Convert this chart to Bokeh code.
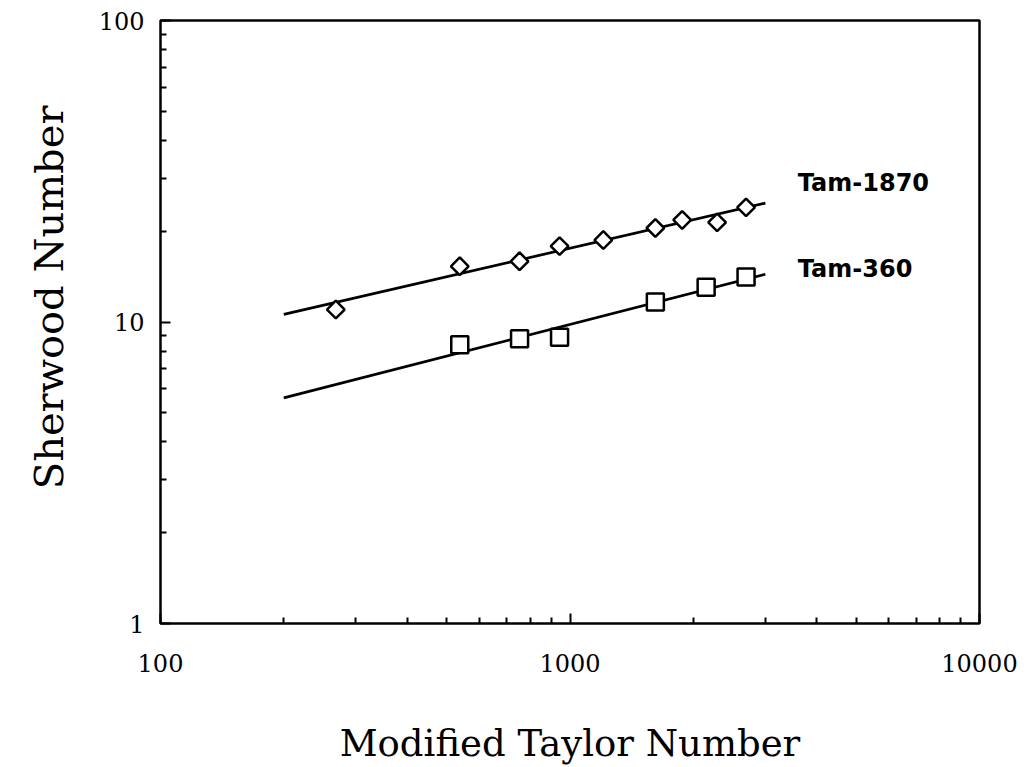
import math
from bokeh.plotting import figure
from bokeh.models import FixedTicker, Label, Title
from bokeh.embed import file_html
from bokeh.resources import INLINE

# Data
tam1870_x = [268, 538, 753, 943, 1206, 1616, 1879, 2287, 2691]
tam1870_y = [11.0, 15.3, 15.9, 17.85, 18.7, 20.5, 21.8, 21.4, 24.0]
tam360_x = [538, 753, 943, 1616, 2150, 2691]
tam360_y = [8.4, 8.8, 8.9, 11.65, 13.05, 14.1]
fit_x = [200, 3000]
fit1870_y = [10.6, 24.8]
fit360_y = [5.6, 14.4]
label_1870 = "Tam-1870"
label_360 = "Tam-360"
x_title = "Modified Taylor Number"
y_title = "Sherwood Number"
x_ticks = [100, 1000, 10000]
y_ticks = [1, 10, 100]

p = figure(width=1019, height=767, x_axis_type="log", y_axis_type="log",
           x_range=(100, 10000), y_range=(1, 100),
           output_backend="svg", toolbar_location=None,
           min_border_left=158, min_border_right=40, min_border_top=20, min_border_bottom=143)

p.grid.visible = False
p.outline_line_color = "black"
p.outline_line_width = 2.5
p.background_fill_color = "white"
p.border_fill_color = "white"

for ax in (p.xaxis[0], p.yaxis[0]):
    ax.axis_line_color = None
    ax.major_tick_in = 10
    ax.major_tick_out = 0
    ax.minor_tick_in = 6
    ax.minor_tick_out = 0
    ax.major_tick_line_width = 2
    ax.minor_tick_line_width = 2
    ax.major_tick_line_color = "black"
    ax.minor_tick_line_color = "black"
    ax.major_label_text_font = "DejaVu Serif"
    ax.major_label_text_font_size = "24px"
    ax.major_label_text_color = "black"
    ax.axis_label_text_font = "DejaVu Serif"
    ax.axis_label_text_font_style = "normal"
    ax.axis_label_text_color = "black"

p.xaxis.ticker = FixedTicker(ticks=x_ticks, minor_ticks=[v * k for v in [100, 1000] for k in range(2, 10)])
p.yaxis.ticker = FixedTicker(ticks=y_ticks, minor_ticks=[v * k for v in [1, 10] for k in range(2, 10)])
p.xaxis.major_label_overrides = {t: str(t) for t in x_ticks}
p.yaxis.major_label_overrides = {t: str(t) for t in y_ticks}
p.xaxis.major_label_standoff = 30
p.yaxis.major_label_standoff = 16

p.xaxis.axis_label = x_title
p.xaxis.axis_label_text_font_size = "37px"
p.xaxis.axis_label_standoff = 47

# y title as a side title, placed slightly above the frame centre as in the reference
p.add_layout(Title(text=y_title, align="right", offset=85, standoff=47,
                   text_font="DejaVu Serif", text_font_size="40px",
                   text_font_style="normal", text_color="black"), "left")

p.line(fit_x, fit1870_y, line_color="black", line_width=2.7)
p.line(fit_x, fit360_y, line_color="black", line_width=2.7)
p.scatter(tam1870_x, tam1870_y, marker="square", angle=math.pi / 4, size=12.5,
          fill_color="white", line_color="black", line_width=2.5)
p.scatter(tam360_x, tam360_y, marker="square", size=17, fill_color="white",
          line_color="black", line_width=2.5)

p.add_layout(Label(x=3600, y=28.9, text=label_1870, text_font="DejaVu Sans",
                   text_font_style="bold", text_font_size="24px", text_baseline="middle",
                   text_color="black"))
p.add_layout(Label(x=3600, y=15.0, text=label_360, text_font="DejaVu Sans",
                   text_font_style="bold", text_font_size="24px", text_baseline="middle",
                   text_color="black"))

open("out.html", "w").write(file_html(p, INLINE))
